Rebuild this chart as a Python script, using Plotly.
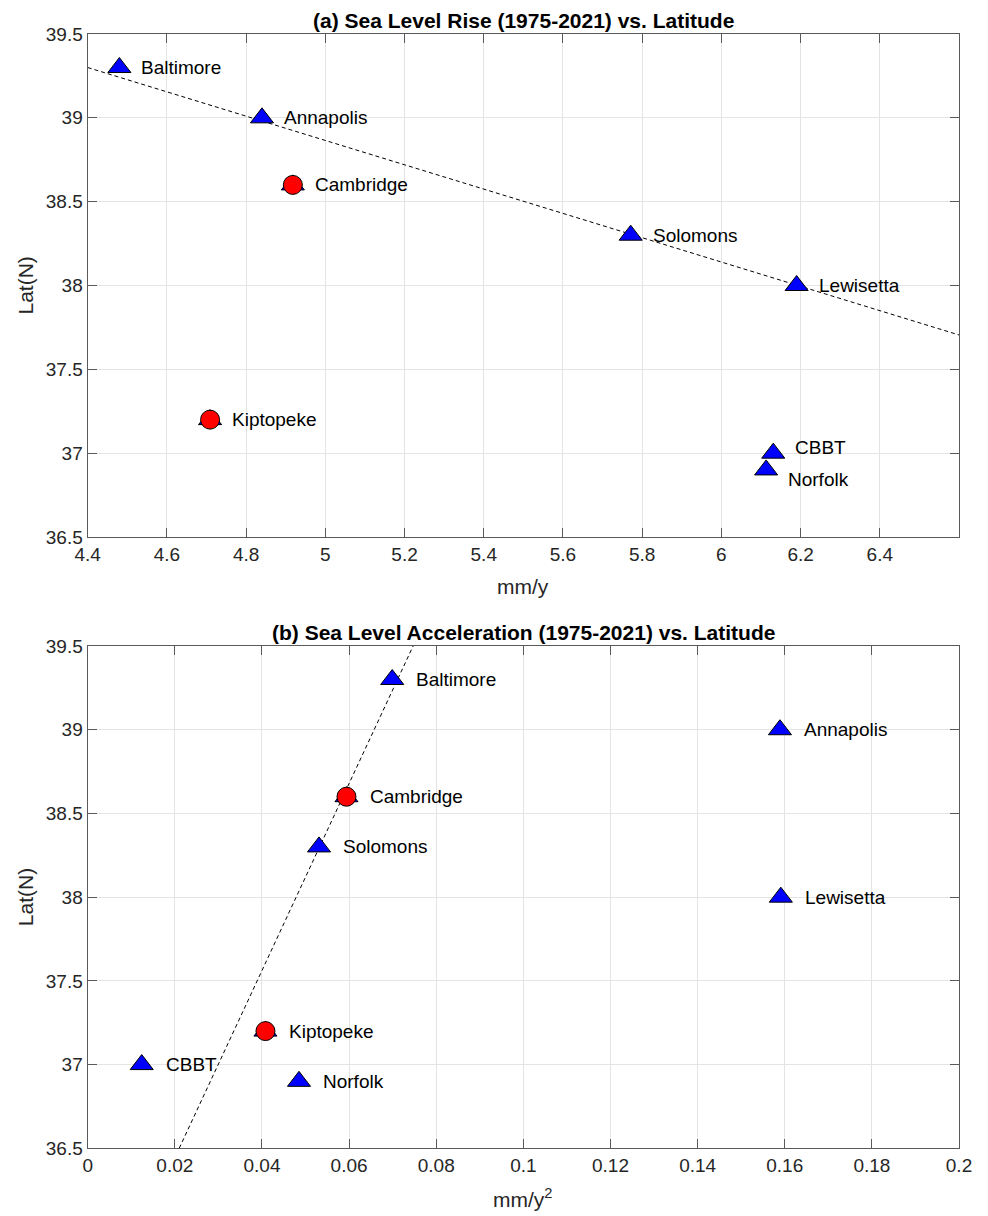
import plotly.graph_objects as go

# ---------------- data ----------------
stations = ["Baltimore", "Annapolis", "Cambridge", "Solomons", "Lewisetta",
            "Kiptopeke", "CBBT", "Norfolk"]
latitude = [39.3, 39.0, 38.6, 38.3, 38.0, 37.2, 37.0, 36.9]
rise_rate = [4.480, 4.840, 4.918, 5.771, 6.190, 4.709, 6.131, 6.113]        # mm/y
acceleration = [0.0699, 0.1589, 0.0594, 0.0531, 0.1591, 0.0408, 0.0124, 0.0485]  # mm/y^2
circled_stations = ["Cambridge", "Kiptopeke"]

trend_rise_x = [4.4, 6.6]
trend_rise_y = [39.30, 37.705]
trend_acc_x = [0.0210, 0.0747]
trend_acc_y = [36.5, 39.5]

lat_ticks = [36.5, 37, 37.5, 38, 38.5, 39, 39.5]
lat_tick_labels = ["36.5", "37", "37.5", "38", "38.5", "39", "39.5"]
rise_ticks = [4.4, 4.6, 4.8, 5.0, 5.2, 5.4, 5.6, 5.8, 6.0, 6.2, 6.4]
rise_tick_labels = ["4.4", "4.6", "4.8", "5", "5.2", "5.4", "5.6", "5.8", "6", "6.2", "6.4"]
acc_ticks = [0, 0.02, 0.04, 0.06, 0.08, 0.1, 0.12, 0.14, 0.16, 0.18, 0.2]
acc_tick_labels = ["0", "0.02", "0.04", "0.06", "0.08", "0.1", "0.12", "0.14", "0.16", "0.18", "0.2"]

titles = ["<b>(a) Sea Level Rise (1975-2021) vs. Latitude</b>",
          "<b>(b) Sea Level Acceleration (1975-2021) vs. Latitude</b>"]
x_titles = ["mm/y", "mm/y<sup>2</sup>"]
y_title = "Lat(N)"

# ---------------- styling ----------------
PAGE_W, PAGE_H = 988, 1216
OFF = 8                       # default page body margin
W, H = PAGE_W - OFF, PAGE_H - OFF
FONT = "Liberation Sans, Arial, sans-serif"
TICK_COLOR = "#262626"
AXIS_COLOR = "#5a5a5a"
GRID_COLOR = "#e4e4e4"
label_nudge_top = {"CBBT": 6, "Norfolk": -10}   # vertical pixel nudges for crowded labels

# plot area pixel boxes in page coordinates (left, right, top, bottom)
boxes = [(87.7, 959.0, 34.0, 537.0), (87.7, 959.0, 646.0, 1148.3)]

def px(v):
    return (v - OFF) / W

def py(v):
    return 1 - (v - OFF) / H

def xdom(b):
    return [px(b[0]), px(b[1])]

def ydom(b):
    return [py(b[3]), py(b[2])]

fig = go.Figure()

panels = [
    dict(xs=rise_rate, tx=trend_rise_x, ty=trend_rise_y, xa="x", ya="y", xshift=20, nudge=label_nudge_top),
    dict(xs=acceleration, tx=trend_acc_x, ty=trend_acc_y, xa="x2", ya="y2", xshift=22, nudge={}),
]

annotations = []
for i, p in enumerate(panels):
    fig.add_trace(go.Scatter(
        x=p["tx"], y=p["ty"], mode="lines", xaxis=p["xa"], yaxis=p["ya"],
        line=dict(color="black", width=1, dash="4px,3px"), showlegend=False, hoverinfo="skip"))
    fig.add_trace(go.Scatter(
        x=p["xs"], y=latitude, mode="markers", xaxis=p["xa"], yaxis=p["ya"],
        marker=dict(symbol="triangle-up", size=20, color="#0000ff",
                    line=dict(color="black", width=1)),
        text=stations, showlegend=False))
    cx = [x for x, s in zip(p["xs"], stations) if s in circled_stations]
    cy = [y for y, s in zip(latitude, stations) if s in circled_stations]
    fig.add_trace(go.Scatter(
        x=cx, y=cy, mode="markers", xaxis=p["xa"], yaxis=p["ya"],
        marker=dict(symbol="circle", size=19, color="#ff0000",
                    line=dict(color="black", width=1)),
        showlegend=False))
    for x, y, s in zip(p["xs"], latitude, stations):
        annotations.append(dict(
            x=x, y=y, xref=p["xa"], yref=p["ya"], text=s, showarrow=False,
            xanchor="left", yanchor="middle", xshift=p["xshift"], yshift=p["nudge"].get(s, 0),
            font=dict(family=FONT, size=19, color="black")))

    b = boxes[i]
    xc = px((b[0] + b[1]) / 2)
    # subplot title
    annotations.append(dict(
        x=xc, y=py(b[2] - 14), xref="paper", yref="paper", text=titles[i],
        showarrow=False, xanchor="center", yanchor="middle",
        font=dict(family=FONT, size=21, color="black")))
    # x axis title
    annotations.append(dict(
        x=xc, y=py(b[3] + 50), xref="paper", yref="paper", text=x_titles[i],
        showarrow=False, xanchor="center", yanchor="middle",
        font=dict(family=FONT, size=21, color=TICK_COLOR)))
    # y axis title
    annotations.append(dict(
        x=px(25), y=py((b[2] + b[3]) / 2), xref="paper", yref="paper", text=y_title,
        showarrow=False, xanchor="center", yanchor="middle", textangle=-90,
        font=dict(family=FONT, size=21, color=TICK_COLOR)))

axis_common = dict(
    showline=True, linecolor=AXIS_COLOR, linewidth=1.3, mirror="ticks",
    ticks="inside", ticklen=9, tickwidth=1, tickcolor=AXIS_COLOR,
    showgrid=True, gridcolor=GRID_COLOR, gridwidth=1, zeroline=False,
    tickfont=dict(family=FONT, size=19, color=TICK_COLOR), automargin=False,
)

fig.update_layout(
    width=W, height=H, margin=dict(l=0, r=0, t=0, b=0),
    paper_bgcolor="white", plot_bgcolor="white",
    xaxis=dict(domain=xdom(boxes[0]), range=[4.4, 6.6], tickvals=rise_ticks,
               ticktext=rise_tick_labels, anchor="y", **axis_common),
    yaxis=dict(domain=ydom(boxes[0]), range=[36.5, 39.5], tickvals=lat_ticks,
               ticktext=lat_tick_labels, anchor="x", **axis_common),
    xaxis2=dict(domain=xdom(boxes[1]), range=[0, 0.2], tickvals=acc_ticks,
                ticktext=acc_tick_labels, anchor="y2", **axis_common),
    yaxis2=dict(domain=ydom(boxes[1]), range=[36.5, 39.5], tickvals=lat_ticks,
                ticktext=lat_tick_labels, anchor="x2", **axis_common),
    annotations=annotations,
    showlegend=False,
)

fig.write_html("out.html")
